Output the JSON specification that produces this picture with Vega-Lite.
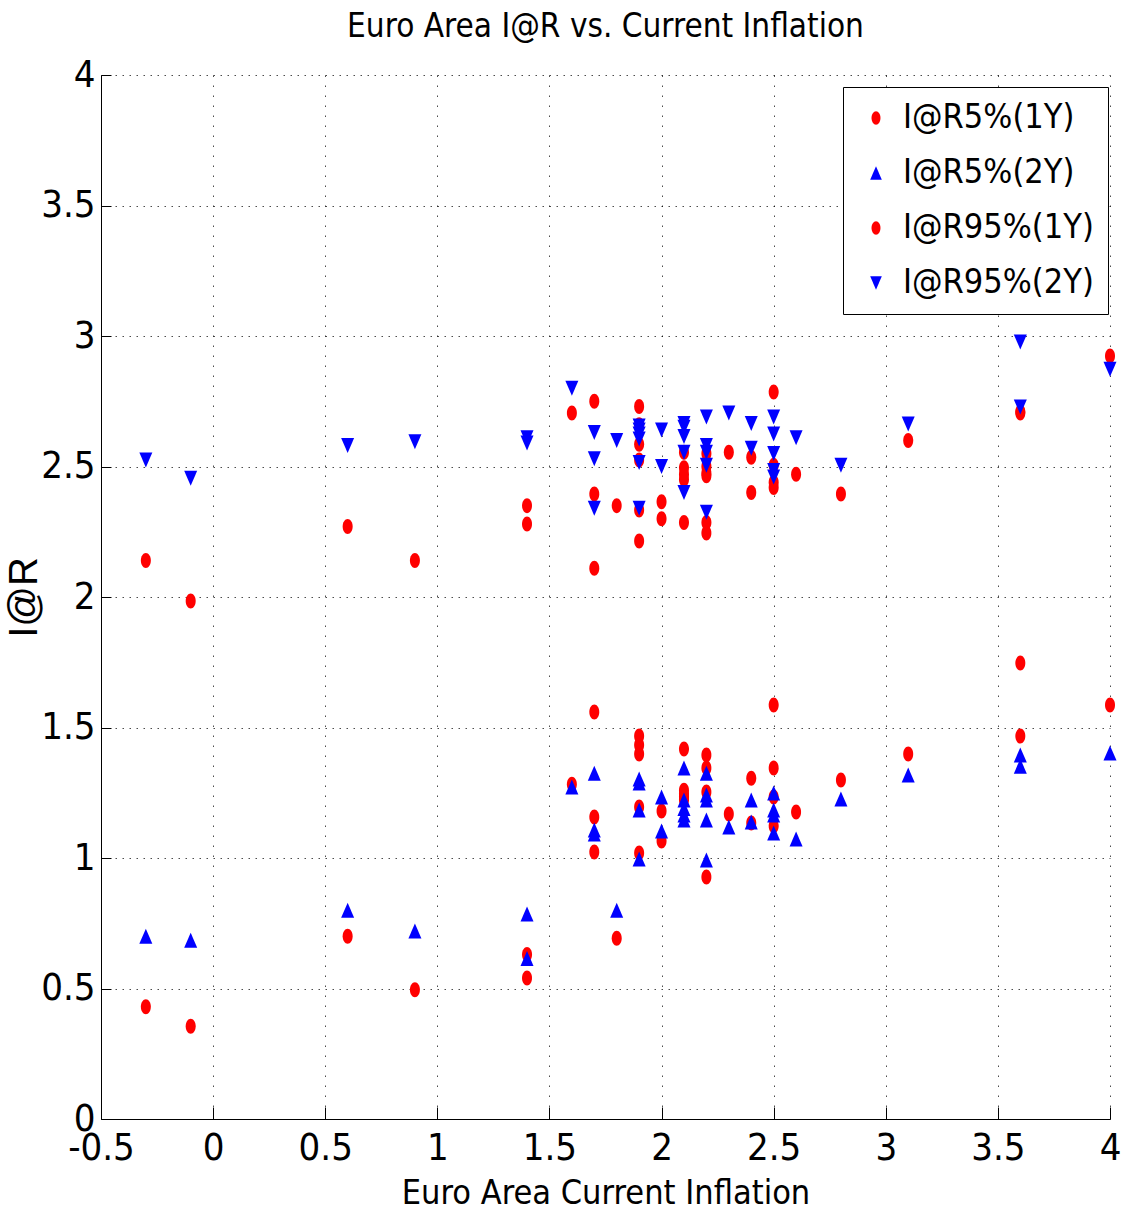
{
  "$schema": "https://vega.github.io/schema/vega-lite/v6.json",
  "width": 1009,
  "height": 1044,
  "autosize": {"type": "none"},
  "padding": {"left": 101, "top": 75, "right": 19, "bottom": 101},
  "background": "white",
  "title": {
    "text": "Euro Area I@R vs. Current Inflation",
    "font": "DejaVu Sans Condensed, sans-serif",
    "fontSize": 33,
    "fontWeight": "normal",
    "color": "black",
    "baseline": "alphabetic",
    "offset": 16,
    "dy": 30,
    "anchor": "middle"
  },
  "data": {
    "values": [
      {"x": -0.3, "s": "I@R5%(1Y)", "v": 0.43},
      {"x": -0.1, "s": "I@R5%(1Y)", "v": 0.355},
      {"x": 0.6, "s": "I@R5%(1Y)", "v": 0.70},
      {"x": 0.9, "s": "I@R5%(1Y)", "v": 0.495},
      {"x": 1.4, "s": "I@R5%(1Y)", "v": 0.63},
      {"x": 1.4, "s": "I@R5%(1Y)", "v": 0.54},
      {"x": 1.6, "s": "I@R5%(1Y)", "v": 1.283},
      {"x": 1.7, "s": "I@R5%(1Y)", "v": 1.559},
      {"x": 1.7, "s": "I@R5%(1Y)", "v": 1.157},
      {"x": 1.7, "s": "I@R5%(1Y)", "v": 1.023},
      {"x": 1.8, "s": "I@R5%(1Y)", "v": 0.693},
      {"x": 1.9, "s": "I@R5%(1Y)", "v": 1.467},
      {"x": 1.9, "s": "I@R5%(1Y)", "v": 1.433},
      {"x": 1.9, "s": "I@R5%(1Y)", "v": 1.398},
      {"x": 1.9, "s": "I@R5%(1Y)", "v": 1.195},
      {"x": 1.9, "s": "I@R5%(1Y)", "v": 1.019},
      {"x": 2.0, "s": "I@R5%(1Y)", "v": 1.18},
      {"x": 2.0, "s": "I@R5%(1Y)", "v": 1.065},
      {"x": 2.1, "s": "I@R5%(1Y)", "v": 1.418},
      {"x": 2.1, "s": "I@R5%(1Y)", "v": 1.26},
      {"x": 2.1, "s": "I@R5%(1Y)", "v": 1.245},
      {"x": 2.1, "s": "I@R5%(1Y)", "v": 1.234},
      {"x": 2.1, "s": "I@R5%(1Y)", "v": 1.222},
      {"x": 2.2, "s": "I@R5%(1Y)", "v": 1.395},
      {"x": 2.2, "s": "I@R5%(1Y)", "v": 1.345},
      {"x": 2.2, "s": "I@R5%(1Y)", "v": 1.253},
      {"x": 2.2, "s": "I@R5%(1Y)", "v": 0.927},
      {"x": 2.3, "s": "I@R5%(1Y)", "v": 1.169},
      {"x": 2.4, "s": "I@R5%(1Y)", "v": 1.306},
      {"x": 2.4, "s": "I@R5%(1Y)", "v": 1.134},
      {"x": 2.5, "s": "I@R5%(1Y)", "v": 1.586},
      {"x": 2.5, "s": "I@R5%(1Y)", "v": 1.345},
      {"x": 2.5, "s": "I@R5%(1Y)", "v": 1.234},
      {"x": 2.5, "s": "I@R5%(1Y)", "v": 1.123},
      {"x": 2.6, "s": "I@R5%(1Y)", "v": 1.176},
      {"x": 2.8, "s": "I@R5%(1Y)", "v": 1.299},
      {"x": 3.1, "s": "I@R5%(1Y)", "v": 1.398},
      {"x": 3.6, "s": "I@R5%(1Y)", "v": 1.747},
      {"x": 3.6, "s": "I@R5%(1Y)", "v": 1.467},
      {"x": 4.0, "s": "I@R5%(1Y)", "v": 1.586},

      {"x": -0.3, "s": "I@R5%(2Y)", "v": 0.70},
      {"x": -0.1, "s": "I@R5%(2Y)", "v": 0.685},
      {"x": 0.6, "s": "I@R5%(2Y)", "v": 0.80},
      {"x": 0.9, "s": "I@R5%(2Y)", "v": 0.72},
      {"x": 1.4, "s": "I@R5%(2Y)", "v": 0.785},
      {"x": 1.4, "s": "I@R5%(2Y)", "v": 0.615},
      {"x": 1.6, "s": "I@R5%(2Y)", "v": 1.272},
      {"x": 1.7, "s": "I@R5%(2Y)", "v": 1.325},
      {"x": 1.7, "s": "I@R5%(2Y)", "v": 1.107},
      {"x": 1.7, "s": "I@R5%(2Y)", "v": 1.092},
      {"x": 1.8, "s": "I@R5%(2Y)", "v": 0.80},
      {"x": 1.9, "s": "I@R5%(2Y)", "v": 1.303},
      {"x": 1.9, "s": "I@R5%(2Y)", "v": 1.287},
      {"x": 1.9, "s": "I@R5%(2Y)", "v": 1.184},
      {"x": 1.9, "s": "I@R5%(2Y)", "v": 0.996},
      {"x": 2.0, "s": "I@R5%(2Y)", "v": 1.234},
      {"x": 2.0, "s": "I@R5%(2Y)", "v": 1.103},
      {"x": 2.1, "s": "I@R5%(2Y)", "v": 1.345},
      {"x": 2.1, "s": "I@R5%(2Y)", "v": 1.222},
      {"x": 2.1, "s": "I@R5%(2Y)", "v": 1.19},
      {"x": 2.1, "s": "I@R5%(2Y)", "v": 1.165},
      {"x": 2.1, "s": "I@R5%(2Y)", "v": 1.146},
      {"x": 2.2, "s": "I@R5%(2Y)", "v": 1.325},
      {"x": 2.2, "s": "I@R5%(2Y)", "v": 1.241},
      {"x": 2.2, "s": "I@R5%(2Y)", "v": 1.222},
      {"x": 2.2, "s": "I@R5%(2Y)", "v": 1.146},
      {"x": 2.2, "s": "I@R5%(2Y)", "v": 0.992},
      {"x": 2.3, "s": "I@R5%(2Y)", "v": 1.119},
      {"x": 2.4, "s": "I@R5%(2Y)", "v": 1.222},
      {"x": 2.4, "s": "I@R5%(2Y)", "v": 1.138},
      {"x": 2.5, "s": "I@R5%(2Y)", "v": 1.249},
      {"x": 2.5, "s": "I@R5%(2Y)", "v": 1.184},
      {"x": 2.5, "s": "I@R5%(2Y)", "v": 1.165},
      {"x": 2.5, "s": "I@R5%(2Y)", "v": 1.096},
      {"x": 2.6, "s": "I@R5%(2Y)", "v": 1.073},
      {"x": 2.8, "s": "I@R5%(2Y)", "v": 1.226},
      {"x": 3.1, "s": "I@R5%(2Y)", "v": 1.318},
      {"x": 3.6, "s": "I@R5%(2Y)", "v": 1.395},
      {"x": 3.6, "s": "I@R5%(2Y)", "v": 1.352},
      {"x": 4.0, "s": "I@R5%(2Y)", "v": 1.402},

      {"x": -0.3, "s": "I@R95%(1Y)", "v": 2.14},
      {"x": -0.1, "s": "I@R95%(1Y)", "v": 1.985},
      {"x": 0.6, "s": "I@R95%(1Y)", "v": 2.27},
      {"x": 0.9, "s": "I@R95%(1Y)", "v": 2.14},
      {"x": 1.4, "s": "I@R95%(1Y)", "v": 2.35},
      {"x": 1.4, "s": "I@R95%(1Y)", "v": 2.28},
      {"x": 1.6, "s": "I@R95%(1Y)", "v": 2.705},
      {"x": 1.7, "s": "I@R95%(1Y)", "v": 2.75},
      {"x": 1.7, "s": "I@R95%(1Y)", "v": 2.395},
      {"x": 1.7, "s": "I@R95%(1Y)", "v": 2.11},
      {"x": 1.8, "s": "I@R95%(1Y)", "v": 2.35},
      {"x": 1.9, "s": "I@R95%(1Y)", "v": 2.73},
      {"x": 1.9, "s": "I@R95%(1Y)", "v": 2.66},
      {"x": 1.9, "s": "I@R95%(1Y)", "v": 2.585},
      {"x": 1.9, "s": "I@R95%(1Y)", "v": 2.525},
      {"x": 1.9, "s": "I@R95%(1Y)", "v": 2.333},
      {"x": 1.9, "s": "I@R95%(1Y)", "v": 2.215},
      {"x": 2.0, "s": "I@R95%(1Y)", "v": 2.365},
      {"x": 2.0, "s": "I@R95%(1Y)", "v": 2.30},
      {"x": 2.1, "s": "I@R95%(1Y)", "v": 2.555},
      {"x": 2.1, "s": "I@R95%(1Y)", "v": 2.495},
      {"x": 2.1, "s": "I@R95%(1Y)", "v": 2.47},
      {"x": 2.1, "s": "I@R95%(1Y)", "v": 2.45},
      {"x": 2.1, "s": "I@R95%(1Y)", "v": 2.285},
      {"x": 2.2, "s": "I@R95%(1Y)", "v": 2.55},
      {"x": 2.2, "s": "I@R95%(1Y)", "v": 2.50},
      {"x": 2.2, "s": "I@R95%(1Y)", "v": 2.475},
      {"x": 2.2, "s": "I@R95%(1Y)", "v": 2.465},
      {"x": 2.2, "s": "I@R95%(1Y)", "v": 2.285},
      {"x": 2.2, "s": "I@R95%(1Y)", "v": 2.245},
      {"x": 2.3, "s": "I@R95%(1Y)", "v": 2.555},
      {"x": 2.4, "s": "I@R95%(1Y)", "v": 2.535},
      {"x": 2.4, "s": "I@R95%(1Y)", "v": 2.40},
      {"x": 2.5, "s": "I@R95%(1Y)", "v": 2.785},
      {"x": 2.5, "s": "I@R95%(1Y)", "v": 2.505},
      {"x": 2.5, "s": "I@R95%(1Y)", "v": 2.44},
      {"x": 2.5, "s": "I@R95%(1Y)", "v": 2.42},
      {"x": 2.6, "s": "I@R95%(1Y)", "v": 2.47},
      {"x": 2.8, "s": "I@R95%(1Y)", "v": 2.395},
      {"x": 3.1, "s": "I@R95%(1Y)", "v": 2.60},
      {"x": 3.6, "s": "I@R95%(1Y)", "v": 2.705},
      {"x": 3.6, "s": "I@R95%(1Y)", "v": 2.71},
      {"x": 4.0, "s": "I@R95%(1Y)", "v": 2.923},

      {"x": -0.3, "s": "I@R95%(2Y)", "v": 2.525},
      {"x": -0.1, "s": "I@R95%(2Y)", "v": 2.455},
      {"x": 0.6, "s": "I@R95%(2Y)", "v": 2.58},
      {"x": 0.9, "s": "I@R95%(2Y)", "v": 2.595},
      {"x": 1.4, "s": "I@R95%(2Y)", "v": 2.61},
      {"x": 1.4, "s": "I@R95%(2Y)", "v": 2.59},
      {"x": 1.6, "s": "I@R95%(2Y)", "v": 2.80},
      {"x": 1.7, "s": "I@R95%(2Y)", "v": 2.63},
      {"x": 1.7, "s": "I@R95%(2Y)", "v": 2.53},
      {"x": 1.7, "s": "I@R95%(2Y)", "v": 2.34},
      {"x": 1.8, "s": "I@R95%(2Y)", "v": 2.60},
      {"x": 1.9, "s": "I@R95%(2Y)", "v": 2.655},
      {"x": 1.9, "s": "I@R95%(2Y)", "v": 2.64},
      {"x": 1.9, "s": "I@R95%(2Y)", "v": 2.625},
      {"x": 1.9, "s": "I@R95%(2Y)", "v": 2.605},
      {"x": 1.9, "s": "I@R95%(2Y)", "v": 2.515},
      {"x": 1.9, "s": "I@R95%(2Y)", "v": 2.34},
      {"x": 2.0, "s": "I@R95%(2Y)", "v": 2.64},
      {"x": 2.0, "s": "I@R95%(2Y)", "v": 2.50},
      {"x": 2.1, "s": "I@R95%(2Y)", "v": 2.665},
      {"x": 2.1, "s": "I@R95%(2Y)", "v": 2.65},
      {"x": 2.1, "s": "I@R95%(2Y)", "v": 2.615},
      {"x": 2.1, "s": "I@R95%(2Y)", "v": 2.555},
      {"x": 2.1, "s": "I@R95%(2Y)", "v": 2.40},
      {"x": 2.2, "s": "I@R95%(2Y)", "v": 2.69},
      {"x": 2.2, "s": "I@R95%(2Y)", "v": 2.58},
      {"x": 2.2, "s": "I@R95%(2Y)", "v": 2.555},
      {"x": 2.2, "s": "I@R95%(2Y)", "v": 2.505},
      {"x": 2.2, "s": "I@R95%(2Y)", "v": 2.325},
      {"x": 2.3, "s": "I@R95%(2Y)", "v": 2.705},
      {"x": 2.4, "s": "I@R95%(2Y)", "v": 2.665},
      {"x": 2.4, "s": "I@R95%(2Y)", "v": 2.57},
      {"x": 2.5, "s": "I@R95%(2Y)", "v": 2.69},
      {"x": 2.5, "s": "I@R95%(2Y)", "v": 2.625},
      {"x": 2.5, "s": "I@R95%(2Y)", "v": 2.55},
      {"x": 2.5, "s": "I@R95%(2Y)", "v": 2.485},
      {"x": 2.5, "s": "I@R95%(2Y)", "v": 2.46},
      {"x": 2.6, "s": "I@R95%(2Y)", "v": 2.61},
      {"x": 2.8, "s": "I@R95%(2Y)", "v": 2.505},
      {"x": 3.1, "s": "I@R95%(2Y)", "v": 2.663},
      {"x": 3.6, "s": "I@R95%(2Y)", "v": 2.977},
      {"x": 3.6, "s": "I@R95%(2Y)", "v": 2.728},
      {"x": 4.0, "s": "I@R95%(2Y)", "v": 2.873}
    ]
  },
  "mark": {"type": "point", "filled": true, "opacity": 1, "size": 225, "strokeWidth": 0},
  "encoding": {
    "x": {
      "field": "x", "type": "quantitative",
      "scale": {"domain": [-0.5, 4], "nice": false, "zero": false},
      "axis": {
        "title": "Euro Area Current Inflation",
        "values": [-0.5, 0, 0.5, 1, 1.5, 2, 2.5, 3, 3.5, 4],
        "labelExpr": "'' + datum.value",
        "tickSize": -12,
        "labelPadding": 22,
        "titlePadding": 9,
        "gridDash": [1.5, 8.5]
      }
    },
    "y": {
      "field": "v", "type": "quantitative",
      "scale": {"domain": [0, 4], "nice": false, "zero": false},
      "axis": {
        "title": "I@R",
        "values": [0, 0.5, 1, 1.5, 2, 2.5, 3, 3.5, 4],
        "labelExpr": "'' + datum.value",
        "tickSize": -10,
        "labelPadding": 16,
        "titlePadding": -4,
        "titleFont": "Liberation Sans, Arial, sans-serif",
        "titleFontSize": 40,
        "gridDash": [1.5, 5.5]
      }
    },
    "color": {
      "field": "s", "type": "nominal",
      "scale": {
        "domain": ["I@R5%(1Y)", "I@R5%(2Y)", "I@R95%(1Y)", "I@R95%(2Y)"],
        "range": ["#ff0000", "#0000ff", "#ff0000", "#0000ff"]
      },
      "legend": {"title": null}
    },
    "shape": {
      "field": "s", "type": "nominal",
      "scale": {
        "domain": ["I@R5%(1Y)", "I@R5%(2Y)", "I@R95%(1Y)", "I@R95%(2Y)"],
        "range": [
          "M-0.667,0A0.667,1,0,1,0,0.667,0A0.667,1,0,1,0,-0.667,0Z",
          "M0,-1L0.867,1L-0.867,1Z",
          "M-0.667,0A0.667,1,0,1,0,0.667,0A0.667,1,0,1,0,-0.667,0Z",
          "M0,1L0.867,-1L-0.867,-1Z"
        ]
      },
      "legend": {"title": null}
    }
  },
  "config": {
    "view": {"stroke": null},
    "axis": {
      "labelFont": "DejaVu Sans Condensed, sans-serif",
      "labelFontSize": 38,
      "labelColor": "black",
      "titleFont": "DejaVu Sans Condensed, sans-serif",
      "titleFontSize": 34,
      "titleFontWeight": "normal",
      "titleColor": "black",
      "domainColor": "black",
      "domainWidth": 1,
      "tickColor": "black",
      "tickWidth": 1,
      "grid": true,
      "gridColor": "#000000",
      "gridOpacity": 0.7,
      "gridWidth": 1,
      "labelFlush": false,
      "labelOverlap": false
    },
    "legend": {
      "orient": "none",
      "legendX": 742,
      "legendY": 12,
      "fillColor": "white",
      "strokeColor": "black",
      "strokeWidth": 1,
      "padding": 14,
      "rowPadding": 21,
      "symbolOffset": 2,
      "labelOffset": 10,
      "labelLimit": 0,
      "labelFont": "DejaVu Sans Condensed, sans-serif",
      "labelFontSize": 34,
      "labelColor": "black",
      "symbolSize": 180,
      "symbolStrokeWidth": 0
    }
  }
}
